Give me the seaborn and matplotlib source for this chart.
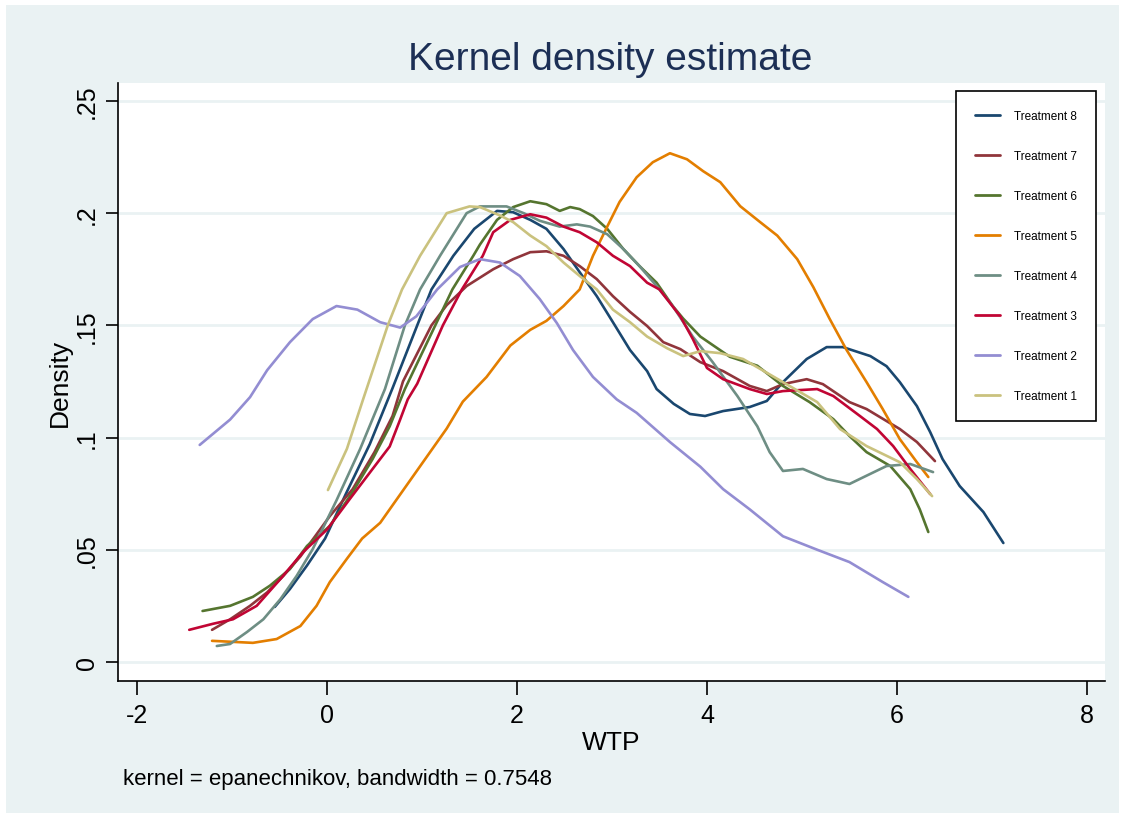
import pandas as pd
import numpy as np
import matplotlib
matplotlib.use("Agg")
import matplotlib.pyplot as plt
import seaborn as sns
from matplotlib.patches import Rectangle

# Values (WTP, density) per treatment
t8_x = [-0.55, -0.39, -0.21, -0.02, 0.2, 0.45, 0.69, 0.95, 1.1, 1.33, 1.55, 1.79, 1.96, 2.14, 2.31, 2.49, 2.66, 2.84,
        3.01, 3.19, 3.37, 3.47, 3.65, 3.82, 3.98, 4.17, 4.45, 4.63, 4.8, 5.05, 5.26, 5.43, 5.72, 5.89, 6.03, 6.21,
        6.35, 6.48, 6.66, 6.91, 7.12]
t8_y = [0.0245, 0.0325, 0.043, 0.055, 0.075, 0.097, 0.122, 0.150, 0.166, 0.181, 0.193, 0.201, 0.2004, 0.197, 0.193,
        0.184, 0.1737, 0.163, 0.1514, 0.139, 0.1296, 0.1216, 0.115, 0.1105, 0.1096, 0.1118, 0.1136, 0.1163, 0.1247,
        0.135, 0.1403, 0.1403, 0.1363, 0.1318, 0.1247, 0.114, 0.1024, 0.0904, 0.0784, 0.0668, 0.053]

t7_x = [-1.21, -1.02, -0.81, -0.63, -0.46, -0.28, 0.03, 0.27, 0.5, 0.69, 0.8, 0.98, 1.1, 1.26, 1.47, 1.75, 1.96,
        2.14, 2.31, 2.49, 2.66, 2.84, 3.01, 3.19, 3.37, 3.54, 3.72, 3.93, 4.17, 4.45, 4.63, 4.8, 5.05, 5.22, 5.5,
        5.68, 6.03, 6.21, 6.4]
t7_y = [0.0143, 0.019, 0.025, 0.031, 0.0383, 0.047, 0.065, 0.077, 0.0935, 0.1096, 0.125, 0.14, 0.15, 0.159, 0.1675,
        0.175, 0.1795, 0.1826, 0.183, 0.181, 0.1764, 0.1706, 0.163, 0.156, 0.1497, 0.1425, 0.1394, 0.1336, 0.1296,
        0.123, 0.1207, 0.1238, 0.126, 0.1238, 0.1158, 0.1127, 0.1038, 0.098, 0.0895]

t6_x = [-1.31, -1.02, -0.78, -0.6, -0.39, -0.21, 0.03, 0.27, 0.48, 0.66, 0.82, 1.14, 1.32, 1.54, 1.61, 1.79, 1.96,
        2.14, 2.31, 2.45, 2.56, 2.66, 2.8, 2.95, 3.12, 3.29, 3.47, 3.64, 3.75, 3.93, 4.24, 4.53, 4.8, 5.08, 5.33,
        5.5, 5.68, 5.93, 6.14, 6.24, 6.33]
t6_y = [0.0227, 0.025, 0.029, 0.034, 0.0414, 0.0517, 0.0606, 0.0757, 0.0904, 0.105, 0.1216, 0.15, 0.166, 0.181,
        0.186, 0.197, 0.2027, 0.2053, 0.204, 0.201, 0.2027, 0.2018, 0.1987, 0.193, 0.184, 0.1764, 0.169, 0.1586,
        0.153, 0.145, 0.136, 0.132, 0.123, 0.1158, 0.1082, 0.1007, 0.0935, 0.0873, 0.077, 0.068, 0.0579]

t5_x = [-1.21, -0.78, -0.53, -0.28, -0.11, 0.03, 0.21, 0.37, 0.56, 0.91, 1.26, 1.43, 1.68, 1.93, 2.14, 2.31, 2.49,
        2.66, 2.8, 2.95, 3.08, 3.26, 3.43, 3.61, 3.79, 3.96, 4.14, 4.35, 4.56, 4.74, 4.95, 5.12, 5.29, 5.47, 5.68,
        5.85, 6.03, 6.21, 6.33]
t5_y = [0.0094, 0.0085, 0.0102, 0.016, 0.025, 0.0356, 0.046, 0.055, 0.062, 0.083, 0.104, 0.116, 0.127, 0.141, 0.148,
        0.152, 0.1586, 0.166, 0.181, 0.194, 0.205, 0.216, 0.2227, 0.2267, 0.224, 0.2187, 0.2138, 0.2031, 0.196, 0.19,
        0.1795, 0.167, 0.153, 0.139, 0.1247, 0.1127, 0.0993, 0.089, 0.0824]

t4_x = [-1.16, -1.02, -0.84, -0.67, -0.49, -0.32, -0.15, 0.1, 0.35, 0.61, 0.82, 0.98, 1.19, 1.47, 1.61, 1.89, 2.07,
        2.24, 2.45, 2.63, 2.77, 2.95, 3.12, 3.29, 3.47, 3.64, 3.85, 4.06, 4.32, 4.53, 4.66, 4.8, 5.01, 5.26, 5.5,
        5.68, 5.89, 6.14, 6.38]
t4_y = [0.0071, 0.008, 0.0134, 0.019, 0.028, 0.0383, 0.0503, 0.072, 0.095, 0.1216, 0.15, 0.166, 0.181, 0.2, 0.203,
        0.203, 0.2, 0.1966, 0.194, 0.195, 0.194, 0.1906, 0.184, 0.1764, 0.1675, 0.1586, 0.145, 0.1336, 0.1185, 0.105,
        0.0935, 0.0851, 0.086, 0.0815, 0.0793, 0.083, 0.0873, 0.0882, 0.0846]

t3_x = [-1.45, -1.2, -0.99, -0.74, -0.49, -0.25, 0.0, 0.24, 0.48, 0.66, 0.77, 0.85, 0.95, 1.22, 1.42, 1.64, 1.75,
        1.93, 2.14, 2.31, 2.49, 2.66, 2.84, 3.01, 3.19, 3.37, 3.5, 3.72, 3.85, 4.0, 4.17, 4.45, 4.63, 4.8, 5.16,
        5.33, 5.61, 5.79, 5.96, 6.14, 6.35]
t3_y = [0.0143, 0.017, 0.019, 0.025, 0.037, 0.049, 0.059, 0.0726, 0.086, 0.096, 0.108, 0.117, 0.124, 0.15, 0.166,
        0.181, 0.1915, 0.197, 0.1995, 0.198, 0.194, 0.1915, 0.187, 0.181, 0.1764, 0.169, 0.166, 0.154, 0.144, 0.131,
        0.126, 0.1216, 0.1194, 0.1207, 0.1216, 0.1185, 0.1096, 0.1038, 0.0962, 0.086, 0.0748]

t2_x = [-1.34, -1.02, -0.81, -0.63, -0.39, -0.15, 0.1, 0.32, 0.56, 0.77, 0.94, 1.16, 1.4, 1.61, 1.82, 2.03, 2.24,
        2.42, 2.59, 2.8, 3.05, 3.26, 3.61, 3.93, 4.17, 4.45, 4.8, 5.16, 5.5, 5.85, 6.12]
t2_y = [0.0967, 0.108, 0.118, 0.130, 0.1425, 0.1528, 0.1586, 0.157, 0.1514, 0.149, 0.154, 0.166, 0.176, 0.1795,
        0.178, 0.172, 0.1617, 0.151, 0.139, 0.127, 0.117, 0.111, 0.098, 0.087, 0.077, 0.068, 0.056, 0.050, 0.0445,
        0.0356, 0.029]

t1_x = [0.01, 0.21, 0.38, 0.64, 0.79, 0.98, 1.26, 1.5, 1.61, 1.82, 1.96, 2.14, 2.31, 2.49, 2.66, 2.84, 3.01, 3.19,
        3.37, 3.58, 3.75, 3.93, 4.14, 4.38, 4.8, 5.16, 5.4, 5.68, 6.03, 6.21, 6.37]
t1_y = [0.0766, 0.095, 0.117, 0.15, 0.166, 0.181, 0.2, 0.203, 0.2027, 0.199, 0.196, 0.19, 0.1853, 0.178, 0.172,
        0.166, 0.157, 0.1514, 0.145, 0.1398, 0.1363, 0.1385, 0.1376, 0.135, 0.1247, 0.1158, 0.1038, 0.0962, 0.089,
        0.0815, 0.0739]

labels = ["Treatment 8", "Treatment 7", "Treatment 6", "Treatment 5",
          "Treatment 4", "Treatment 3", "Treatment 2", "Treatment 1"]
series = [(t8_x, t8_y), (t7_x, t7_y), (t6_x, t6_y), (t5_x, t5_y),
          (t4_x, t4_y), (t3_x, t3_y), (t2_x, t2_y), (t1_x, t1_y)]
# Stata s2color palette
colors = ["#1a476f", "#90353b", "#55752f", "#e37e00",
          "#6e8e84", "#c10534", "#938dd2", "#cac27e"]

x_ticks = [-2, 0, 2, 4, 6, 8]
y_ticks = [0, 0.05, 0.1, 0.15, 0.2, 0.25]
y_tick_labels = ["0", ".05", ".1", ".15", ".2", ".25"]

frames = []
for lab, (xs, ys) in zip(labels, series):
    frames.append(pd.DataFrame({"WTP": xs, "Density": ys, "group": lab}))
df = pd.concat(frames, ignore_index=True)

sns.set_style("white")
plt.rcParams['font.family'] = ['Liberation Sans', 'DejaVu Sans']
plt.rcParams['text.color'] = 'black'
plt.rcParams['axes.labelcolor'] = 'black'

bg = "#eaf2f3"
fig = plt.figure(figsize=(11.25, 8.2), dpi=100, facecolor="white")
fig.patches.append(Rectangle((6 / 1125, 6 / 820), 1 - 12 / 1125, 1 - 12 / 820,
                             transform=fig.transFigure, facecolor=bg, edgecolor="none", zorder=-10))
ax = fig.add_axes([118 / 1125, 1 - 682 / 820, (1105 - 118) / 1125, (682 - 84) / 820])
ax.set_facecolor("white")

sns.lineplot(data=df, x="WTP", y="Density", hue="group", hue_order=labels,
             palette=colors, estimator=None, sort=False, linewidth=1.9, ax=ax)

ax.set_xlim(-2.2, 8.19)
ax.set_ylim(-0.0085, 0.258)
ax.set_xticks(x_ticks)
ax.set_xticklabels([str(t) for t in x_ticks])
ax.set_yticks(y_ticks)
ax.set_yticklabels(y_tick_labels, rotation=90, va="center")
ax.tick_params(axis="x", bottom=True, direction="out", length=10, width=1.2, labelsize=18, pad=6,
               colors="black")
ax.tick_params(axis="y", left=True, direction="out", length=9, width=1.2, labelsize=18, pad=5,
               colors="black")
ax.grid(axis="y", color=bg, linewidth=2)
ax.set_axisbelow(True)
for side in ["top", "right"]:
    ax.spines[side].set_visible(False)
for side in ["left", "bottom"]:
    ax.spines[side].set_color("black")
    ax.spines[side].set_linewidth(1.2)

ax.set_xlabel("WTP", fontsize=19, labelpad=2)
ax.set_ylabel("Density", fontsize=19, labelpad=2)

fig.text(0.542, 1 - 60 / 820, "Kernel density estimate", fontsize=28, color="#1c2f55",
         ha="center", va="center")
fig.text(123 / 1125, 1 - 780 / 820, "kernel = epanechnikov, bandwidth = 0.7548", fontsize=16,
         ha="left", va="center")

leg = ax.legend(loc="upper right", bbox_to_anchor=(0.991, 0.987), fontsize=8.5, frameon=True,
                fancybox=False, edgecolor="black", framealpha=1, labelspacing=2.38,
                handlelength=2.1, handletextpad=1.2, borderpad=1.6, borderaxespad=0)
leg.get_frame().set_linewidth(1.2)
for line in leg.get_lines():
    line.set_linewidth(2)

fig.savefig("out.png", dpi=100, facecolor=fig.get_facecolor())
